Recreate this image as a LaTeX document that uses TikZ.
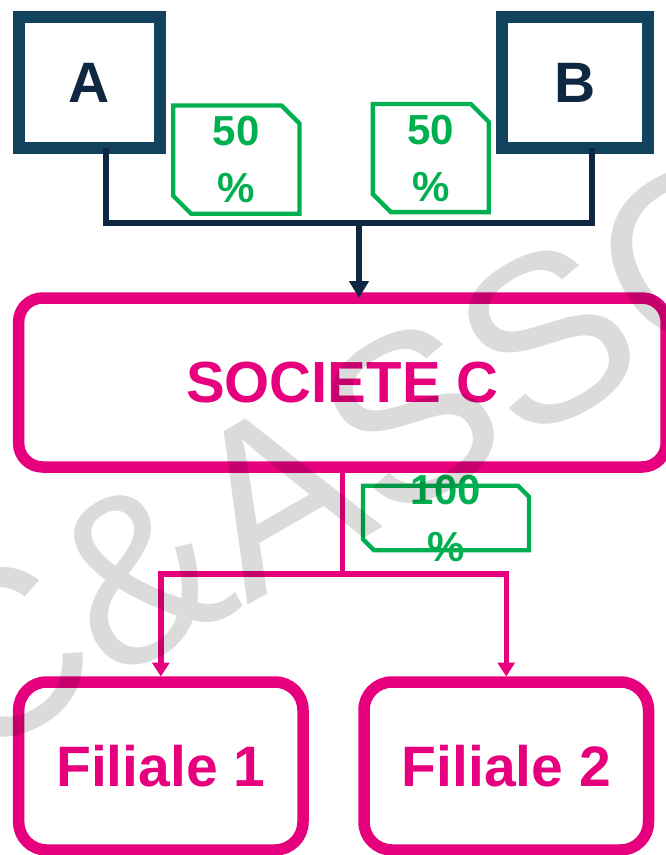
\documentclass[tikz,border=0pt]{standalone}
\usepackage{fontspec}
\setmainfont{Liberation Sans}
\usetikzlibrary{arrows.meta}
\definecolor{frameteal}{RGB}{18,67,94}
\definecolor{inknavy}{RGB}{14,40,65}
\definecolor{sharegreen}{RGB}{0,176,80}
\definecolor{groupmagenta}{RGB}{230,0,126}
\begin{document}
\begin{tikzpicture}[x=1pt,y=-1pt,
  holder/.style={draw=frameteal, line width=12pt, fill=white, text=inknavy,
    font=\bfseries\fontsize{57}{57}\selectfont, inner sep=0pt, outer sep=0pt},
  entity/.style={draw=groupmagenta, line width=11.5pt, fill=white, text=groupmagenta,
    font=\bfseries\fontsize{57}{57}\selectfont, inner sep=0pt, outer sep=0pt},
  sharetag/.style={rectangle, inner sep=0pt, outer sep=0pt},
  tagline/.style={draw=sharegreen, line width=4.3pt},
  sharetext/.style={text=sharegreen, font=\bfseries\fontsize{42}{57}\selectfont,
    align=center, inner sep=0pt},
  navylink/.style={draw=inknavy, line width=5.5pt},
  magentalink/.style={draw=groupmagenta, line width=5.5pt},
  navytip/.style={-{Triangle[width=19pt,length=17pt]}},
  magentatip/.style={-{Triangle[width=17pt,length=14pt]}, shorten >=5.5pt},
]
\useasboundingbox (0,0) rectangle (666,855);
\clip (0,0) rectangle (666,855);
\fill[white] (0,0) rectangle (666,855);

% shareholders
\node[holder, minimum width=141pt, minimum height=131pt] (A) at (89,82.5) {A};
\node[holder, minimum width=146pt, minimum height=131pt] (B) at (575,82.5) {B};

% holding company and subsidiaries
\node[entity, rounded corners=24pt, minimum width=647.6pt, minimum height=169pt,
  font=\bfseries\fontsize{58}{58}\selectfont] (C) at (342.4,382.5) {SOCIETE C};
\node[entity, rounded corners=28pt, minimum width=284.3pt, minimum height=168pt] (F1) at (160.85,766) {Filiale 1};
\node[entity, rounded corners=28pt, minimum width=284.5pt, minimum height=168pt] (F2) at (506.25,766) {Filiale 2};

% ownership tags: rectangles with the top right and bottom left corners cut off
\node[sharetag, minimum width=126.3pt, minimum height=108.3pt] (t1) at (236.3,159.6) {};
\node[sharetag, minimum width=115.9pt, minimum height=108.2pt] (t2) at (430.8,158) {};
\node[sharetag, minimum width=166pt, minimum height=64.5pt] (t3) at (446,518) {};
\foreach \t/\c in {t1/18,t2/18,t3/11}
  \draw[tagline] (\t.north west) -- ([xshift=-\c pt]\t.north east)
    -- ([yshift=-\c pt]\t.north east) -- (\t.south east)
    -- ([xshift=\c pt]\t.south west) -- ([yshift=\c pt]\t.south west) -- cycle;
\node[sharetext] (l1) at (t1.center) {50\\\%};
\node[sharetext] (l2) at (t2.center) {50\\\%};
\node[sharetext] (l3) at (t3.center) {100\\\%};

% ownership links A, B -> C
\coordinate (jn) at (359,223);
\draw[navylink] ([xshift=16.8pt]A.south) |- (jn) -| ([xshift=17pt]B.south);
\draw[navylink, navytip] (jn) -- (jn |- C.north);

% ownership links C -> subsidiaries
\coordinate (jc) at (342.4,574);
\draw[magentalink] (C.south) -- (jc);
\draw[magentalink, magentatip] (jc) -| (F1.north);
\draw[magentalink, magentatip] (jc) -| (F2.north);

% watermark
\node[rotate=30, anchor=base west, inner sep=0pt, text=black, text opacity=0.14,
  font=\fontsize{236}{236}\selectfont] (wm) at (-37,769) {C\&ASSO};
\end{tikzpicture}
\end{document}
